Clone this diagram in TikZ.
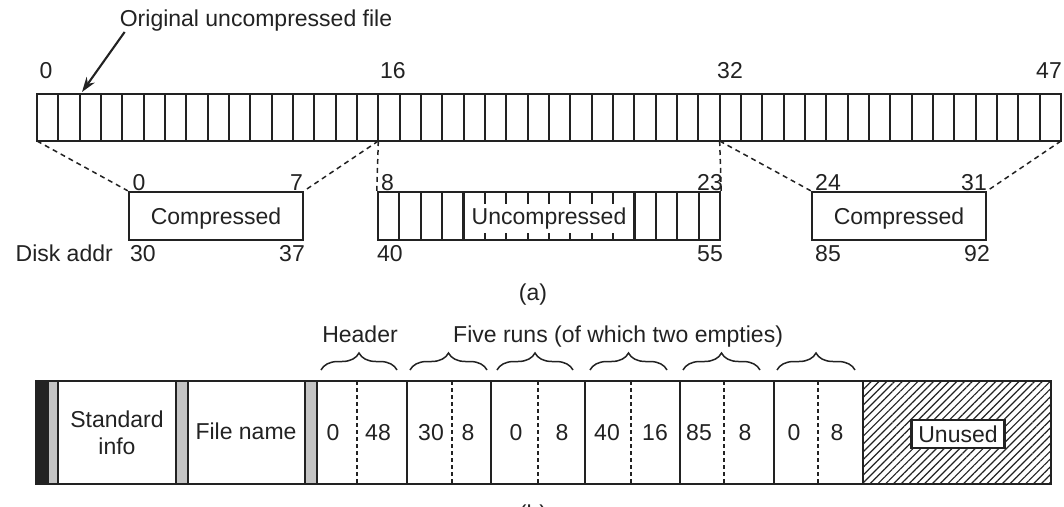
\documentclass[tikz,border=0pt]{standalone}
\usepackage{fontspec}
\setmainfont{Liberation Sans}
\usetikzlibrary{arrows.meta, positioning, decorations.pathreplacing, patterns.meta}
\definecolor{inkDark}{HTML}{222222}
\definecolor{bandGray}{HTML}{C4C4C4}

\begin{document}
\begin{tikzpicture}[x=1pt,y=-1pt,
    every node/.style={font=\fontsize{23}{27}\selectfont,text=inkDark,inner sep=0pt},
    cell/.style={draw=inkDark,line width=2.1pt},
    blk/.style={draw=inkDark,line width=2.4pt,minimum height=48pt,text depth=0pt},
    map/.style={draw=inkDark,line width=1.5pt,dash pattern=on 5pt off 4pt},
    half/.style={draw=inkDark,line width=1.6pt,dash pattern=on 4pt off 3pt},
    brc/.style={draw=inkDark,line width=1.5pt,decorate,decoration={brace,amplitude=17pt}},
    band/.style={fill=bandGray,draw=inkDark,line width=2.1pt}]
  \useasboundingbox (0,0) rectangle (1064,506);

  % original file, 48 blocks
  \node[anchor=base] (orig) at (256,27) {Original uncompressed file};
  \foreach \i in {0,...,48}
    \coordinate (t\i) at (37+\i*21.333,141);
  \foreach \i in {1,...,47}
    \draw[cell] (37+\i*21.333,94) -- (t\i);
  \draw[cell] (37,94) rectangle (t48);
  \coordinate (tip) at (82,92);
  \draw[draw=inkDark,line width=2.1pt,-{Stealth[length=15pt,width=10pt]}] ([xshift=5pt]orig.south west) -- (tip);

  \node[anchor=base] (l0) at (46,78) {0};
  \node[anchor=base west] (l16) at (380,78) {16};
  \node[anchor=base west] (l32) at (717,78) {32};
  \node[anchor=base east] (l47) at (1062,78) {47};

  % units on disk
  \node[blk,minimum width=174pt] (cmpA) at (216,216) {Compressed};
  \node[blk,minimum width=342pt] (unc) at (549,216) {};
  \node[blk,minimum width=174pt] (cmpB) at (899,216) {Compressed};
  \foreach \k in {1,2,3,4,12,13,14,15}
    \draw[cell] (378+\k*21.375,192) -- (378+\k*21.375,240);
  \foreach \k in {5,...,11}{
    \draw[cell] (378+\k*21.375,192) -- (378+\k*21.375,204);
    \draw[cell] (378+\k*21.375,233) -- (378+\k*21.375,240);}
  \node[text depth=0pt] (uncTxt) at (unc.center) {Uncompressed};

  \draw[map] (t0) -- (cmpA.north west);
  \draw[map] (t16) -- (cmpA.north east);
  \draw[map] (t16) -- (unc.north west);
  \draw[map] (t32) -- (unc.north east);
  \draw[map] (t32) -- (cmpB.north west);
  \draw[map] (t48) -- (cmpB.north east);

  \node[anchor=base] (a0) at (139,190) {0};
  \node[anchor=base east] (a7) at (303,190) {7};
  \node[anchor=base west] (a30) at (130,261) {30};
  \node[anchor=base east] (a37) at (305,261) {37};
  \node[anchor=base east] (disk) at (113,261) {Disk addr};
  \node[anchor=base west] (u8) at (381,190) {8};
  \node[anchor=base east] (u23) at (723,190) {23};
  \node[anchor=base west] (u40) at (377,261) {40};
  \node[anchor=base east] (u55) at (723,261) {55};
  \node[anchor=base west] (b24) at (815,190) {24};
  \node[anchor=base east] (b31) at (987,190) {31};
  \node[anchor=base west] (b85) at (815,261) {85};
  \node[anchor=base east] (b92) at (990,261) {92};
  \node[anchor=base] (capA) at (533,300) {(a)};

  % MFT record
  \fill[inkDark] (36,381) rectangle (48,484);
  \draw[band] (48,381) rectangle (58,484);
  \draw[band] (176,381) rectangle (188,484);
  \draw[band] (305,381) rectangle (317,484);
  \fill[pattern={Lines[angle=45,distance=5.5pt,line width=1.2pt]},pattern color=inkDark]
    (863,381) rectangle (1051,484);
  \foreach \x in {407,491,585,680,774,863}
    \draw[cell] (\x,381) -- (\x,484);
  \foreach \x in {357,452,538,631,724,818}
    \draw[half] (\x,381) -- (\x,484);
  \draw[cell] (36,381) rectangle (1051,484);
  \node[draw=inkDark,line width=2.1pt,fill=white,minimum width=93pt,minimum height=28pt,
    text depth=0pt] (unused) at (958,434) {Unused};

  \node[align=center] (std) at (117,433) {Standard\\info};
  \node[anchor=base] (fname) at (246,439) {File name};
  \foreach \x/\v in {333/0,378/48,431/30,468/8,516/0,562/8,607/40,655/16,699/85,745/8,794/0,837/8}
    \node[anchor=base] (v\x) at (\x,440) {\v};

  \foreach \a/\b in {321/397,410/487,497/573,590/667,683/760,777/855}
    \draw[brc] (\a,370) -- (\b,370);
  \node[anchor=base] (hdr) at (360,342) {Header};
  \node[anchor=base west] (runs) at (453,342) {Five runs (of which two empties)};
  \node[anchor=base] (capB) at (533,521) {(b)};
\end{tikzpicture}
\end{document}
